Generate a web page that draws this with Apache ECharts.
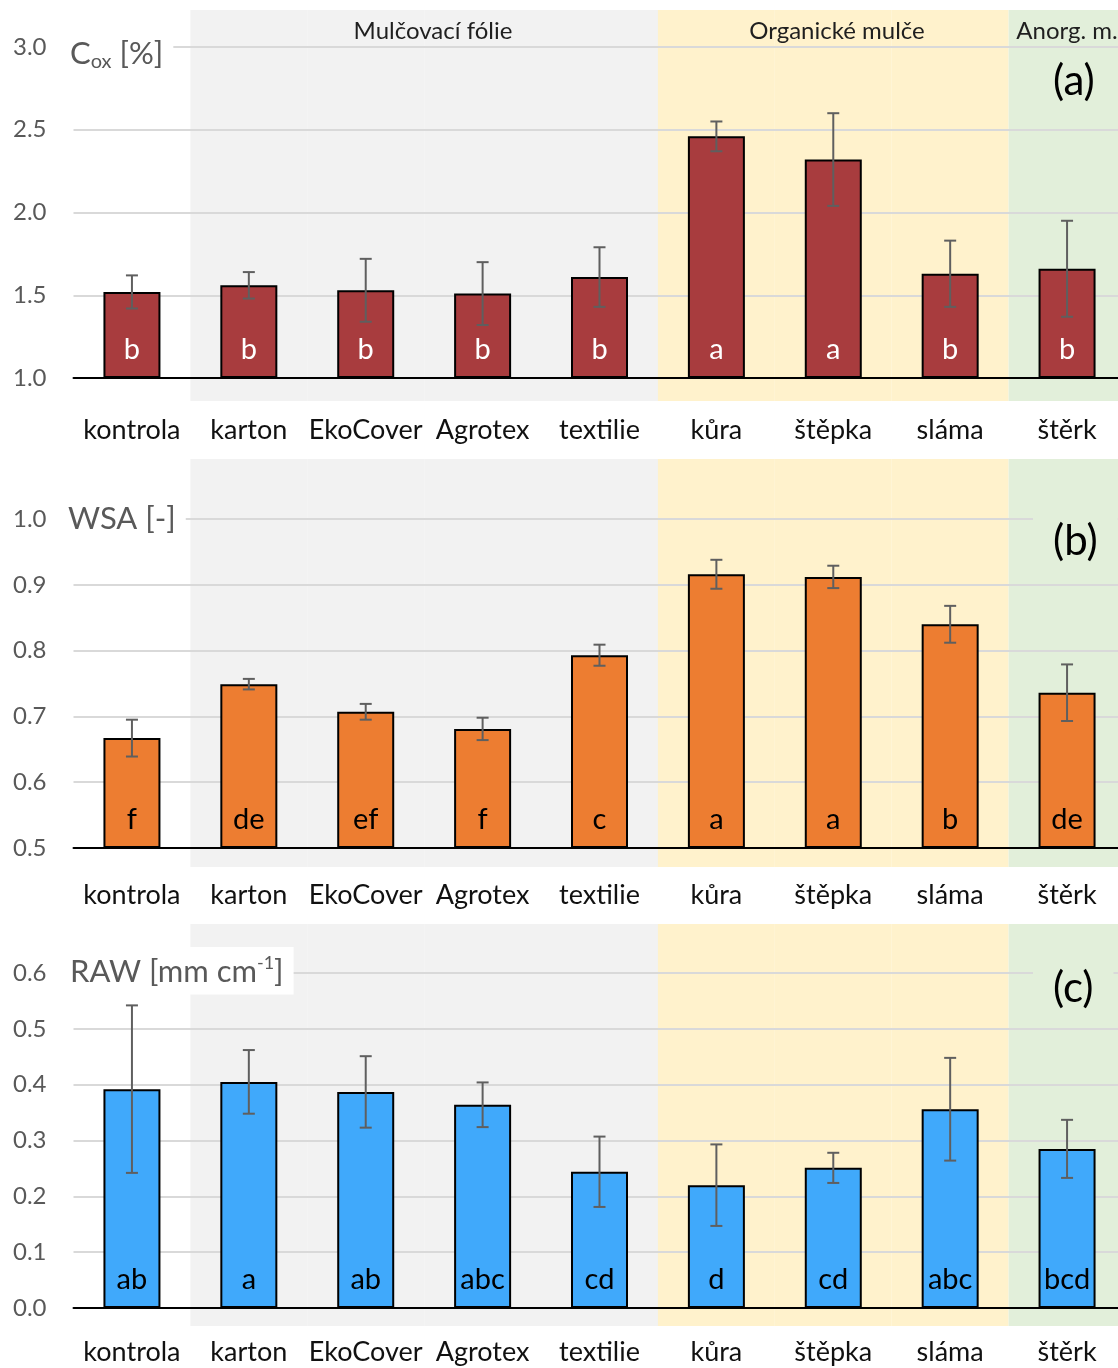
<!DOCTYPE html>
<html>
<head>
<meta charset="utf-8">
<script src="https://cdn.jsdelivr.net/npm/echarts@6/dist/echarts.min.js"></script>
<style>
html, body { margin: 0; padding: 0; background: #fff; }
#chart { width: 1118px; height: 1368px; }
</style>
</head>
<body>
<div id="chart"></div>
<script>
// categories and their mulch group
const categories = ['kontrola', 'karton', 'EkoCover', 'Agrotex', 'textilie', 'kůra', 'štěpka', 'sláma', 'štěrk']
const groupOf = ['', 'folie', 'folie', 'folie', 'folie', 'org', 'org', 'org', 'anorg']

// (a) Cox [%]
const coxMean = [1.52, 1.56, 1.53, 1.51, 1.61, 2.46, 2.32, 1.63, 1.66]
const coxErr = [0.10, 0.08, 0.19, 0.19, 0.18, 0.09, 0.28, 0.20, 0.29]
const coxLetters = ['b', 'b', 'b', 'b', 'b', 'a', 'a', 'b', 'b']
const coxTicks = [1.0, 1.5, 2.0, 2.5, 3.0]

// (b) WSA [-]
const wsaMean = [0.667, 0.749, 0.707, 0.681, 0.793, 0.916, 0.912, 0.840, 0.736]
const wsaErr = [0.028, 0.008, 0.012, 0.017, 0.016, 0.022, 0.017, 0.028, 0.043]
const wsaLetters = ['f', 'de', 'ef', 'f', 'c', 'a', 'a', 'b', 'de']
const wsaTicks = [0.5, 0.6, 0.7, 0.8, 0.9, 1.0]

// (c) RAW [mm cm-1]
const rawMean = [0.392, 0.405, 0.387, 0.364, 0.244, 0.220, 0.251, 0.356, 0.285]
const rawErr = [0.150, 0.057, 0.064, 0.040, 0.063, 0.073, 0.027, 0.092, 0.052]
const rawLetters = ['ab', 'a', 'ab', 'abc', 'cd', 'd', 'cd', 'abc', 'bcd']
const rawTicks = [0.0, 0.1, 0.2, 0.3, 0.4, 0.5, 0.6]

const bandColors = { '': 'rgba(0,0,0,0)', folie: '#f2f2f2', org: '#fff2cc', anorg: '#e2efda' }
const font = 'Lato, "Noto Sans", sans-serif'
const plotLeft = 73.5
const plotWidth = 1052

const panels = [
    { mean: coxMean, err: coxErr, letters: coxLetters, ticks: coxTicks, color: '#a83c3e', letterColor: '#fff',
      top: 47, bottom: 378, bandTop: 10, bandBottom: 401, labelMargin: 36 },
    { mean: wsaMean, err: wsaErr, letters: wsaLetters, ticks: wsaTicks, color: '#ed7d31', letterColor: '#000',
      top: 519, bottom: 848, bandTop: 459, bandBottom: 867, labelMargin: 31 },
    { mean: rawMean, err: rawErr, letters: rawLetters, ticks: rawTicks, color: '#40a9fb', letterColor: '#000',
      top: 973, bottom: 1308, bandTop: 924, bandBottom: 1326, labelMargin: 28 }
]

function errRender(params, api) {
    const x = api.value(0), m = api.value(1), e = api.value(2)
    const hi = api.coord([x, m + e])
    const lo = api.coord([x, m - e])
    const w = 6
    const st = { stroke: '#5f5f5f', lineWidth: 2 }
    return {
        type: 'group',
        children: [
            { type: 'line', shape: { x1: hi[0], y1: hi[1], x2: lo[0], y2: lo[1] }, style: st },
            { type: 'line', shape: { x1: hi[0] - w, y1: hi[1], x2: hi[0] + w, y2: hi[1] }, style: st },
            { type: 'line', shape: { x1: lo[0] - w, y1: lo[1], x2: lo[0] + w, y2: lo[1] }, style: st }
        ]
    }
}

const grid = [], xAxis = [], yAxis = [], series = []
panels.forEach((p, i) => {
    grid.push({ left: plotLeft, width: plotWidth, top: p.top, height: p.bottom - p.top, outerBoundsMode: 'none', containLabel: false })
    xAxis.push({
        type: 'category', gridIndex: i, data: categories,
        axisLine: { lineStyle: { color: '#000', width: 2 } },
        axisTick: { show: false },
        axisLabel: { color: '#111', fontSize: 27, fontFamily: font, margin: p.labelMargin, interval: 0, lineHeight: 32 },
        splitLine: { show: false }, z: 3
    })
    const step = p.ticks[1] - p.ticks[0]
    yAxis.push({
        type: 'value', gridIndex: i,
        min: p.ticks[0], max: p.ticks[p.ticks.length - 1], interval: step, startValue: p.ticks[0],
        axisLine: { show: false }, axisTick: { show: false },
        axisLabel: { color: '#595959', fontSize: 24, fontFamily: font, margin: 27, formatter: v => v.toFixed(1) },
        splitLine: { lineStyle: { color: '#d9d9d9', width: 2 } }
    })
    series.push({
        type: 'bar', xAxisIndex: i, yAxisIndex: i, barWidth: 57,
        data: p.mean,
        itemStyle: { color: p.color, borderColor: '#000', borderWidth: 2 },
        label: {
            show: true, position: 'insideBottom', distance: 14,
            formatter: d => p.letters[d.dataIndex],
            color: p.letterColor, fontSize: 29, fontFamily: font
        },
        z: 2
    })
    series.push({
        type: 'custom', xAxisIndex: i, yAxisIndex: i,
        renderItem: errRender,
        data: p.mean.map((m, k) => [k, m, p.err[k]]),
        encode: { x: 0, y: 1 }, z: 4, silent: true
    })
})
// background bands for the mulch groups
panels.forEach((p, i) => {
    const gi = panels.length + i
    grid.push({ left: plotLeft, width: plotWidth, top: p.bandTop, height: p.bandBottom - p.bandTop, outerBoundsMode: 'none', containLabel: false })
    xAxis.push({ type: 'category', gridIndex: gi, data: categories, show: false })
    yAxis.push({ type: 'value', gridIndex: gi, min: 0, max: 1, show: false })
    series.push({
        type: 'bar', xAxisIndex: gi, yAxisIndex: gi, barWidth: '100%', barCategoryGap: 0, silent: true,
        data: groupOf.map(g => ({ value: 1, itemStyle: { color: bandColors[g] } })),
        z: -5
    })
})

const titleStyle = { color: '#595959', fontFamily: font, fontSize: 31, lineHeight: 36, fontWeight: 'normal' }
const subStyle = { color: '#595959', fontFamily: font, fontSize: 20, lineHeight: 16, verticalAlign: 'bottom', fontWeight: 'normal' }
const supStyle = { color: '#595959', fontFamily: font, fontSize: 18, lineHeight: 18, verticalAlign: 'top', fontWeight: 'normal' }
const letterStyle = { color: '#000', fontFamily: font, fontSize: 42, lineHeight: 50, fontWeight: 'normal' }
const title = [
    { text: '{m|C}{s|ox}{m| [%]}', left: 62, top: 34, padding: [2, 10, 2, 8], backgroundColor: '#fff',
      textStyle: { fontWeight: 'normal', rich: { m: titleStyle, s: subStyle } } },
    { text: '{m|WSA [-]}', left: 60, top: 499, padding: [2, 10, 2, 8], backgroundColor: '#fff',
      textStyle: { fontWeight: 'normal', rich: { m: titleStyle } } },
    { text: '{m|RAW [mm cm}{p|-1}{m|]}', left: 62, top: 947, padding: [7, 10, 7, 8], backgroundColor: '#fff',
      textStyle: { fontWeight: 'normal', rich: { m: titleStyle, p: supStyle } } },
    { text: '(a)', left: 1040, top: 54, padding: [2, 14, 2, 13], textStyle: letterStyle },
    { text: '(b)', left: 1033, top: 510, padding: [6, 20, 6, 20], backgroundColor: bandColors.anorg, textStyle: letterStyle },
    { text: '(c)', left: 1033, top: 957, padding: [6, 20, 6, 20], backgroundColor: bandColors.anorg, textStyle: letterStyle }
]

const groupTitleStyle = { fontSize: 24, fontFamily: font, fill: '#1f1f1f', align: 'center', verticalAlign: 'middle' }
const graphic = [
    { type: 'text', x: 433, y: 31, style: Object.assign({ text: 'Mulčovací fólie' }, groupTitleStyle), z: 10 },
    { type: 'text', x: 837, y: 31, style: Object.assign({ text: 'Organické mulče' }, groupTitleStyle), z: 10 },
    { type: 'text', x: 1067, y: 31, style: Object.assign({ text: 'Anorg. m.' }, groupTitleStyle), z: 10 }
]

const chart = echarts.init(document.getElementById('chart'), null, { renderer: 'canvas' })
chart.setOption({
    animation: false,
    backgroundColor: '#fff',
    title: title,
    grid: grid,
    xAxis: xAxis,
    yAxis: yAxis,
    series: series,
    graphic: graphic
})
</script>
</body>
</html>
